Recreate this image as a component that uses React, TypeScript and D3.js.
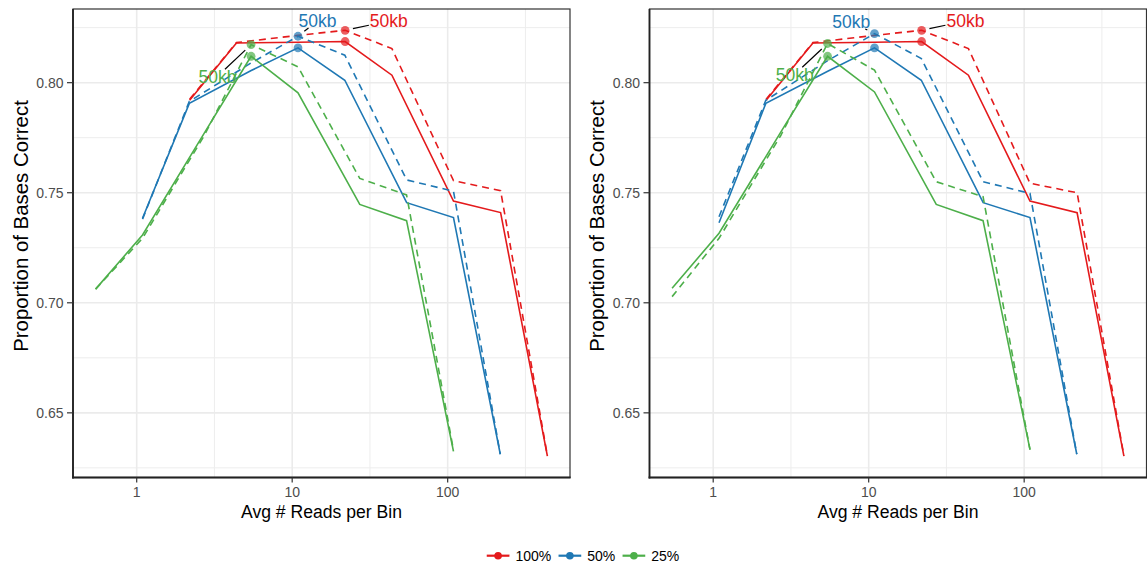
import React from "react";
import * as d3 from "d3";

// Bin sizes for each run; the 50kb bin is marked on every curve
const binSizes = ["5kb", "10kb", "25kb", "50kb", "100kb", "250kb", "500kb", "1Mb"];
const markedBin = "50kb";

const groupNames = ["100%", "50%", "25%"];
const groupColors = ["#E41A1C", "#1F78B4", "#4DAF4A"];

// Average reads per bin at each bin size, per subsampling level
const readsPerBin100 = [2.19, 4.38, 10.9, 21.9, 43.8, 109, 219, 438];
const readsPerBin50 = [1.09, 2.18, 5.45, 10.9, 21.8, 54.5, 109, 218];
const readsPerBin25 = [0.544, 1.09, 2.72, 5.44, 10.9, 27.2, 54.4, 109];

// Left panel: proportion of bases correct (solid and dashed runs)
const leftSolid100 = [0.792, 0.818, 0.8184, 0.8187, 0.8034, 0.7462, 0.741, 0.6303];
const leftDashed100 = [0.7925, 0.8182, 0.8215, 0.8238, 0.8155, 0.7555, 0.7509, 0.6305];
const leftSolid50 = [0.7384, 0.7906, 0.8055, 0.8158, 0.8011, 0.7455, 0.7387, 0.6312];
const leftDashed50 = [0.738, 0.7915, 0.809, 0.8211, 0.8125, 0.7558, 0.7507, 0.6312];
const leftSolid25 = [0.7062, 0.7308, 0.7771, 0.812, 0.7954, 0.7447, 0.7373, 0.6325];
const leftDashed25 = [0.7062, 0.7293, 0.776, 0.8173, 0.8072, 0.7565, 0.749, 0.633];

// Right panel
const rightSolid100 = [0.792, 0.818, 0.8184, 0.8187, 0.8034, 0.7462, 0.7409, 0.6303];
const rightDashed100 = [0.7925, 0.8182, 0.8215, 0.8238, 0.8155, 0.7543, 0.75, 0.6305];
const rightSolid50 = [0.7364, 0.7906, 0.8052, 0.8158, 0.8011, 0.7455, 0.7387, 0.6312];
const rightDashed50 = [0.7391, 0.792, 0.81, 0.8223, 0.811, 0.755, 0.7497, 0.6312];
const rightSolid25 = [0.7066, 0.7316, 0.7775, 0.812, 0.7958, 0.7447, 0.7373, 0.6333];
const rightDashed25 = [0.7028, 0.7293, 0.776, 0.8178, 0.8057, 0.755, 0.7482, 0.6333];

const yTicks = [0.65, 0.7, 0.75, 0.8];
const yMinor = [0.625, 0.675, 0.725, 0.775, 0.825];
const xTicks = [1, 10, 100];
const xMinor = [Math.pow(10, 0.5), Math.pow(10, 1.5), Math.pow(10, 2.5)];

const xTitle = "Avg # Reads per Bin";
const yTitle = "Proportion of Bases Correct";

// Repelled label offsets (px) from the marked dashed point, per panel and group
const labelOffsetsLeft = [[43.7, -9.3], [19.4, -15.3], [-33.5, 31.7]];
const labelOffsetsRight = [[43.8, -9.3], [-23.3, -11.6], [-32.8, 30.7]];

const FONT = "'Liberation Sans', Arial, Helvetica, sans-serif";
const W = 1147;
const H = 565;
const PANEL_W = 497;
const PANEL_TOP = 9;
const PANEL_BOTTOM = 477.5;

const readsByGroup = [readsPerBin100, readsPerBin50, readsPerBin25];

type Panel = {
  left: number;
  solid: number[][];
  dashed: number[][];
  offsets: number[][];
};

const panels: Panel[] = [
  {
    left: 73,
    solid: [leftSolid100, leftSolid50, leftSolid25],
    dashed: [leftDashed100, leftDashed50, leftDashed25],
    offsets: labelOffsetsLeft,
  },
  {
    left: 649.5,
    solid: [rightSolid100, rightSolid50, rightSolid25],
    dashed: [rightDashed100, rightDashed50, rightDashed25],
    offsets: labelOffsetsRight,
  },
];

// ggplot-style 5% expansion of the data range
const allX = readsByGroup.flat();
const allY = panels.flatMap((p) => [...p.solid.flat(), ...p.dashed.flat()]);
const lx = d3.extent(allX.map((v) => Math.log10(v))) as [number, number];
const ly = d3.extent(allY) as [number, number];
const ex = (lx[1] - lx[0]) * 0.05;
const ey = (ly[1] - ly[0]) * 0.05;
const xDomain: [number, number] = [Math.pow(10, lx[0] - ex), Math.pow(10, lx[1] + ex)];
const yDomain: [number, number] = [ly[0] - ey, ly[1] + ey];

const charW: Record<string, number> = {
  "0": 0.556, "1": 0.556, "2": 0.556, "5": 0.556, "%": 0.889, k: 0.5, b: 0.556,
};
const textWidth = (s: string, size: number) =>
  s.split("").reduce((a, c) => a + (charW[c] ?? 0.556), 0) * size;

function PanelView({ panel }: { panel: Panel }) {
  const x0 = panel.left;
  const x1 = panel.left + PANEL_W;
  const x = d3.scaleLog().domain(xDomain).range([x0, x1]);
  const y = d3.scaleLinear().domain(yDomain).range([PANEL_BOTTOM, PANEL_TOP]);
  const line = d3
    .line<[number, number]>()
    .x((d) => x(d[0]))
    .y((d) => y(d[1]));
  const mi = binSizes.indexOf(markedBin);
  const labelSize = 17.5;

  return (
    <g>
      <rect x={x0} y={PANEL_TOP} width={PANEL_W} height={PANEL_BOTTOM - PANEL_TOP} fill="#fff" />
      {yMinor.map((v) => (
        <line key={"ym" + v} x1={x0} x2={x1} y1={y(v)} y2={y(v)} stroke="#EDEDED" strokeWidth={1} />
      ))}
      {xMinor.map((v) => (
        <line key={"xm" + v} x1={x(v)} x2={x(v)} y1={PANEL_TOP} y2={PANEL_BOTTOM} stroke="#EDEDED" strokeWidth={1} />
      ))}
      {yTicks.map((v) => (
        <line key={"yM" + v} x1={x0} x2={x1} y1={y(v)} y2={y(v)} stroke="#EBEBEB" strokeWidth={1.6} />
      ))}
      {xTicks.map((v) => (
        <line key={"xM" + v} x1={x(v)} x2={x(v)} y1={PANEL_TOP} y2={PANEL_BOTTOM} stroke="#EBEBEB" strokeWidth={1.6} />
      ))}

      {groupNames.map((g, gi) => {
        const xs = readsByGroup[gi];
        const solid = xs.map((v, i) => [v, panel.solid[gi][i]] as [number, number]);
        const dashed = xs.map((v, i) => [v, panel.dashed[gi][i]] as [number, number]);
        return (
          <g key={"l" + g}>
            <path d={line(solid) || ""} fill="none" stroke={groupColors[gi]} strokeWidth={1.6} />
            <path d={line(dashed) || ""} fill="none" stroke={groupColors[gi]} strokeWidth={1.6} strokeDasharray="7,5" />
          </g>
        );
      })}

      {groupNames.map((g, gi) => {
        const xv = readsByGroup[gi][mi];
        return (
          <g key={"p" + g}>
            <circle cx={x(xv)} cy={y(panel.solid[gi][mi])} r={4.4} fill={groupColors[gi]} fillOpacity={0.7} />
            <circle cx={x(xv)} cy={y(panel.dashed[gi][mi])} r={4.4} fill={groupColors[gi]} fillOpacity={0.7} />
          </g>
        );
      })}

      {groupNames.map((g, gi) => {
        const px = x(readsByGroup[gi][mi]);
        const py = y(panel.dashed[gi][mi]);
        const [dx, dy] = panel.offsets[gi];
        const cx = px + dx;
        const cy = py + dy;
        const len = Math.hypot(dx, dy);
        const hw = textWidth(markedBin, labelSize) / 2 + 1;
        const hh = 7;
        const t = Math.min(Math.abs(dx) > 0 ? hw / Math.abs(dx) : 1e9, Math.abs(dy) > 0 ? hh / Math.abs(dy) : 1e9);
        const endDist = len * (1 - t);
        const startDist = 8;
        const ux = dx / len;
        const uy = dy / len;
        return (
          <g key={"t" + g}>
            {endDist > startDist + 1 && (
              <line
                x1={px + ux * startDist}
                y1={py + uy * startDist}
                x2={px + ux * endDist}
                y2={py + uy * endDist}
                stroke="#000"
                strokeWidth={1.2}
              />
            )}
            <text
              x={cx}
              y={cy + labelSize * 0.36}
              textAnchor="middle"
              fontSize={labelSize}
              fontFamily={FONT}
              fill={groupColors[gi]}
            >
              {markedBin}
            </text>
          </g>
        );
      })}

      <rect
        x={x0}
        y={PANEL_TOP}
        width={PANEL_W}
        height={PANEL_BOTTOM - PANEL_TOP}
        fill="none"
        stroke="#333"
        strokeWidth={1.2}
      />
      <line x1={x0} x2={x0} y1={PANEL_TOP} y2={PANEL_BOTTOM + 0.9} stroke="#222" strokeWidth={1.8} />
      <line x1={x0 - 0.9} x2={x1 + 0.6} y1={PANEL_BOTTOM} y2={PANEL_BOTTOM} stroke="#222" strokeWidth={1.8} />

      {yTicks.map((v) => (
        <g key={"yt" + v}>
          <line x1={x0 - 6} x2={x0} y1={y(v)} y2={y(v)} stroke="#333" strokeWidth={1.2} />
          <text
            x={x0 - 9.5}
            y={y(v) + 5}
            textAnchor="end"
            fontSize={14}
            fontFamily={FONT}
            fill="#4D4D4D"
          >
            {d3.format(".2f")(v)}
          </text>
        </g>
      ))}
      {xTicks.map((v) => (
        <g key={"xt" + v}>
          <line x1={x(v)} x2={x(v)} y1={PANEL_BOTTOM} y2={PANEL_BOTTOM + 5} stroke="#333" strokeWidth={1.2} />
          <text x={x(v)} y={496.7} textAnchor="middle" fontSize={14} fontFamily={FONT} fill="#4D4D4D">
            {String(v)}
          </text>
        </g>
      ))}

      <text x={(x0 + x1) / 2} y={517.5} textAnchor="middle" fontSize={17.6} fontFamily={FONT} fill="#000">
        {xTitle}
      </text>
      <text
        transform={`translate(${x0 - 45.5},226) rotate(-90)`}
        textAnchor="middle"
        fontSize={20.4}
        fontFamily={FONT}
        fill="#000"
      >
        {yTitle}
      </text>
    </g>
  );
}

function Legend() {
  const size = 14;
  const keyW = 22.7;
  const gapKeyText = 6;
  const gapItems = 7.3;
  const widths = groupNames.map((g) => textWidth(g, size));
  const total = groupNames.length * (keyW + gapKeyText) + d3.sum(widths) + (groupNames.length - 1) * gapItems;
  const cy = 555.7;
  let cursor = 583 - total / 2;
  return (
    <g>
      {groupNames.map((g, gi) => {
        const kx = cursor;
        cursor += keyW + gapKeyText + widths[gi] + gapItems;
        return (
          <g key={g}>
            <line x1={kx} x2={kx + keyW} y1={cy} y2={cy} stroke={groupColors[gi]} strokeWidth={2.2} />
            <circle cx={kx + keyW / 2} cy={cy} r={3.8} fill={groupColors[gi]} />
            <text x={kx + keyW + gapKeyText} y={cy + 5.2} fontSize={size} fontFamily={FONT} fill="#000">
              {g}
            </text>
          </g>
        );
      })}
    </g>
  );
}

export default function App() {
  return (
    <svg
      width={W}
      height={H}
      viewBox={`0 0 ${W} ${H}`}
      style={{ position: "absolute", left: 0, top: 0, background: "#fff" }}
    >
      <rect x={0} y={0} width={W} height={H} fill="#fff" />
      {panels.map((p, i) => (
        <PanelView key={i} panel={p} />
      ))}
      <Legend />
    </svg>
  );
}
